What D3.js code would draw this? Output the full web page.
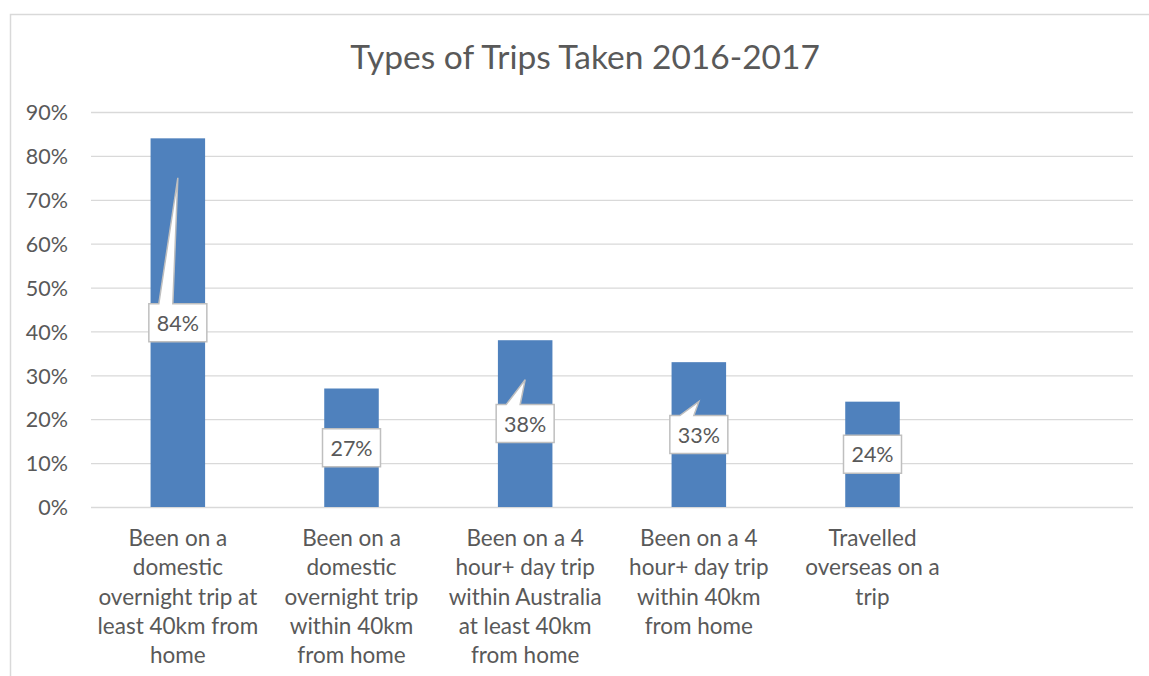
<!DOCTYPE html>
<html>
<head>
<meta charset="utf-8">
<script src="https://cdn.jsdelivr.net/npm/d3@7"></script>
<style>
  body { margin: 0; background: #fff; }
  text { font-family: Lato, "Open Sans", sans-serif; fill: #595959; }
</style>
</head>
<body>
<svg id="chart" width="1149" height="676"></svg>
<script>
// chart data
var title = "Types of Trips Taken 2016-2017";
var categories = [
  "Been on a\ndomestic\novernight trip at\nleast 40km from\nhome",
  "Been on a\ndomestic\novernight trip\nwithin 40km\nfrom home",
  "Been on a 4\nhour+ day trip\nwithin Australia\nat least 40km\nfrom home",
  "Been on a 4\nhour+ day trip\nwithin 40km\nfrom home",
  "Travelled\noverseas on a\ntrip",
  "" // empty category slot, as in the original
];
var values = [0.84, 0.27, 0.38, 0.33, 0.24];
var yTicks = [0, 0.1, 0.2, 0.3, 0.4, 0.5, 0.6, 0.7, 0.8, 0.9];

var svg = d3.select("#chart");
var margin = {left: 91, right: 16, top: 112, bottom: 169};
var W = +svg.attr("width"), H = +svg.attr("height");

// outer frame of the chart area
svg.append("rect")
  .attr("x", 10.5).attr("y", 14.5)
  .attr("width", 1160).attr("height", 700)
  .attr("fill", "none").attr("stroke", "#d9d9d9").attr("stroke-width", 1.5);

var x = d3.scaleBand()
  .domain(d3.range(categories.length))
  .range([margin.left, W - margin.right])
  .paddingInner(0.686).paddingOuter(0.343);

var y = d3.scaleLinear()
  .domain([0, 0.9])
  .range([H - margin.bottom, margin.top]);

// title
svg.append("text")
  .attr("x", 585).attr("y", 69)
  .attr("text-anchor", "middle")
  .style("font-size", "33.5px")
  .text(title);

// y axis + gridlines
var yAxis = d3.axisLeft(y)
  .tickValues(yTicks)
  .tickFormat(d3.format(".0%"))
  .tickSize(-(W - margin.left - margin.right))
  .tickPadding(23);

var gy = svg.append("g")
  .attr("transform", "translate(" + margin.left + ",0)")
  .call(yAxis);
gy.select(".domain").remove();
gy.selectAll(".tick line").attr("stroke", "#d9d9d9").attr("stroke-width", 1.3);
gy.selectAll(".tick text")
  .style("font-size", "21.5px")
  .attr("dy", "0.36em")
  .attr("fill", "#595959");

// bars
svg.append("g").selectAll("rect")
  .data(values)
  .enter().append("rect")
  .attr("x", function(d, i) { return x(i); })
  .attr("y", function(d) { return y(d); })
  .attr("width", x.bandwidth())
  .attr("height", function(d) { return y(0) - y(d); })
  .attr("fill", "#4f81bd");

// category labels
var lineH = 29.3;
svg.append("g").selectAll("text")
  .data(categories)
  .enter().append("text")
  .attr("text-anchor", "middle")
  .style("font-size", "22.5px")
  .each(function(d, i) {
    var t = d3.select(this);
    var cx = x(i) + x.bandwidth() / 2;
    d.split("\n").forEach(function(line, k) {
      t.append("tspan")
        .attr("x", cx)
        .attr("y", 546 + k * lineH)
        .text(line);
    });
  });

// callout data labels (box centred in bar, pointer towards the bar)
var boxW = 58, boxH = 38;
var labels = svg.append("g").selectAll("g")
  .data(values)
  .enter().append("g");

labels.append("path")
  .attr("fill", "#fff")
  .attr("stroke", "#bfbfbf")
  .attr("stroke-width", 1.5)
  .attr("d", function(d, i) {
    var cx = x(i) + x.bandwidth() / 2;
    var cy = y(d / 2);
    var L = cx - boxW / 2, R = cx + boxW / 2, T = cy - boxH / 2, B = cy + boxH / 2;
    var tipY = y(d - 0.09);
    var p = d3.path();
    p.moveTo(L, T);
    if (tipY < T - 1) {
      p.lineTo(L + 10, T);
      p.lineTo(cx, tipY);
      p.lineTo(cx - 5, T);
    }
    p.lineTo(R, T);
    p.lineTo(R, B);
    p.lineTo(L, B);
    p.closePath();
    return p.toString();
  });

labels.append("text")
  .attr("x", function(d, i) { return x(i) + x.bandwidth() / 2; })
  .attr("y", function(d) { return y(d / 2) + 8; })
  .attr("text-anchor", "middle")
  .style("font-size", "21.5px")
  .style("fill", "#595959")
  .text(function(d) { return d3.format(".0%")(d); });
</script>
</body>
</html>
